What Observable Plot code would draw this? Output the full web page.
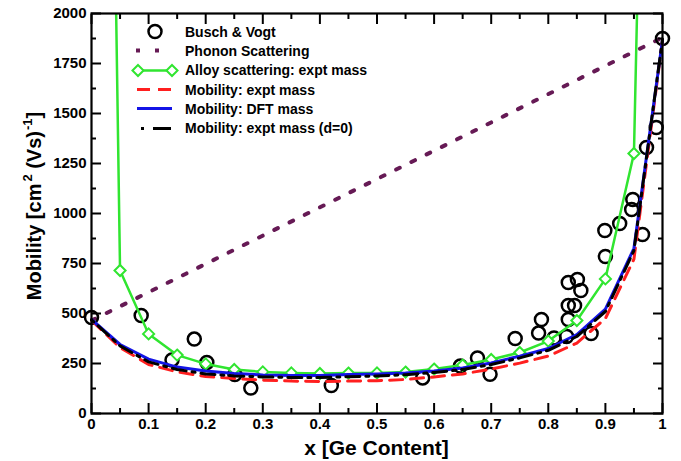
<!DOCTYPE html>
<html><head><meta charset="utf-8">
<script src="https://cdn.jsdelivr.net/npm/d3@7"></script>
<script src="https://cdn.jsdelivr.net/npm/@observablehq/plot@0.6"></script>
<style>
body{margin:0;background:#fff;}
#wrap{position:relative;width:681px;height:461px;font-family:"Liberation Sans",Arial,Helvetica,sans-serif;}
#legend{position:absolute;left:133px;top:22px;}
.row{display:flex;align-items:center;height:19.3px;font-weight:bold;font-size:14px;color:#000;white-space:nowrap;}
.row svg{width:44px;height:19px;margin-right:8px;flex:none;}
</style></head><body><div id="wrap"></div>
<script>
// ---- data ----
const xTicks = [0,0.1,0.2,0.3,0.4,0.5,0.6,0.7,0.8,0.9,1];
const xTickLabels = ["0","0.1","0.2","0.3","0.4","0.5","0.6","0.7","0.8","0.9","1"];
const xMinorTicks = [0.05,0.15,0.25,0.35,0.45,0.55,0.65,0.75,0.85,0.95];
const yTicks = [0,250,500,750,1000,1250,1500,1750,2000];
const yTickLabels = ["0","250","500","750","1000","1250","1500","1750","2000"];
const yMinorTicks = [125,375,625,875,1125,1375,1625,1875];

const seriesNames = ["Busch & Vogt","Phonon Scattering","Alloy scattering: expt mass","Mobility: expt mass","Mobility: DFT mass","Mobility: expt mass (d=0)"];

// Busch & Vogt experimental points
const buschX = [0,0.087,0.141,0.18,0.202,0.251,0.279,0.42,0.58,0.646,0.676,0.698,0.742,0.783,0.788,0.81,0.832,0.835,0.835,0.846,0.835,0.851,0.857,0.875,0.9,0.899,0.925,0.946,0.948,0.965,0.972,0.989,1.0];
const buschY = [480,490,268,372,255,195,127,140,178,237,278,196,375,402,470,378,385,470,540,540,655,670,615,400,785,915,950,1020,1070,895,1330,1430,1875];

// Phonon scattering (straight line)
const phononX = [0,1];
const phononY = [465,1880];

// Alloy scattering: expt mass (line points; the end points run off the top)
const alloyX = [0.04,0.05,0.1,0.15,0.2,0.25,0.3,0.35,0.4,0.45,0.5,0.55,0.6,0.65,0.7,0.75,0.8,0.85,0.9,0.95,0.96];
const alloyY = [2600,715,398,292,248,220,208,203,200,202,203,207,222,242,270,305,362,465,673,1300,2600];

// Mobility curves
const mobX = [0,0.05,0.1,0.15,0.2,0.25,0.3,0.35,0.4,0.45,0.5,0.55,0.6,0.65,0.7,0.75,0.8,0.85,0.9,0.95,1.0];
const mobExptY = [465,330,245,208,185,175,167,162,160,162,164,170,183,198,222,252,287,352,475,772,1865];
const mobDftY  = [470,345,272,232,212,200,193,190,190,195,198,203,212,228,253,287,325,395,522,826,1868];
const mobD0Y   = [468,338,258,220,198,188,183,180,180,184,188,194,205,220,245,278,316,385,510,815,1872];

// ---- tables ----
const busch = buschX.map((x,i)=>({x, y: buschY[i]}));
const phonon = phononX.map((x,i)=>({x, y: phononY[i]}));
const alloy = alloyX.map((x,i)=>({x, y: alloyY[i]}));
const alloyMarks = alloy.filter(d => d.y <= 2000);
const mobExpt = mobX.map((x,i)=>({x, y: mobExptY[i]}));
const mobDft = mobX.map((x,i)=>({x, y: mobDftY[i]}));
const mobD0 = mobX.map((x,i)=>({x, y: mobD0Y[i]}));

const GREEN = "#30e530", RED = "#ff1f1f", BLUE = "#1414e6", PURPLE = "#661a55";
const xFmt = d => xTickLabels[Math.round(d*10)];
const yFmt = d => yTickLabels[Math.round(d/250)];
const blank = () => "";

const plot = Plot.plot({
  width: 681, height: 461,
  marginLeft: 91, marginRight: 19, marginTop: 13, marginBottom: 48,
  style: {fontFamily: '"Liberation Sans", Arial, Helvetica, sans-serif', fontSize: "15px", fontWeight: "bold", color: "#000", background: "#fff"},
  x: {domain: [0,1]},
  y: {domain: [0,2000]},
  marks: [
    Plot.line(phonon, {x:"x", y:"y", stroke: PURPLE, strokeWidth: 4, strokeDasharray: "4,13", clip: true}),
    Plot.dot(busch, {x:"x", y:"y", r: 6.5, stroke: "#000", strokeWidth: 2.5, fill: "none"}),
    Plot.line(alloy, {x:"x", y:"y", stroke: GREEN, strokeWidth: 2.5, clip: true}),
    Plot.dot(alloyMarks, {x:"x", y:"y", symbol: "diamond2", r: 5, stroke: GREEN, strokeWidth: 2, fill: "#fff"}),
    Plot.line(mobExpt, {x:"x", y:"y", stroke: RED, strokeWidth: 3, strokeDasharray: "13,8"}),
    Plot.line(mobDft, {x:"x", y:"y", stroke: BLUE, strokeWidth: 3}),
    Plot.line(mobD0, {x:"x", y:"y", stroke: "#000", strokeWidth: 3, strokeDasharray: "3,6,14,6"}),
    Plot.axisX({ticks: xTicks, tickFormat: xFmt, tickSize: 0, tickPadding: 5, label: null}),
    Plot.axisY({ticks: yTicks, tickFormat: yFmt, tickSize: 0, tickPadding: 5, label: null}),
    Plot.axisX({ticks: xTicks, tickFormat: blank, tickSize: -10, strokeWidth: 2, label: null}),
    Plot.axisX({ticks: xMinorTicks, tickFormat: blank, tickSize: -5, strokeWidth: 2, label: null}),
    Plot.axisX({anchor: "top", ticks: xTicks, tickFormat: blank, tickSize: -10, strokeWidth: 2, label: null}),
    Plot.axisX({anchor: "top", ticks: xMinorTicks, tickFormat: blank, tickSize: -5, strokeWidth: 2, label: null}),
    Plot.axisY({ticks: yTicks, tickFormat: blank, tickSize: -10, strokeWidth: 2, label: null}),
    Plot.axisY({ticks: yMinorTicks, tickFormat: blank, tickSize: -5, strokeWidth: 2, label: null}),
    Plot.axisY({anchor: "right", ticks: yTicks, tickFormat: blank, tickSize: -10, strokeWidth: 2, label: null}),
    Plot.axisY({anchor: "right", ticks: yMinorTicks, tickFormat: blank, tickSize: -5, strokeWidth: 2, label: null}),
    Plot.frame({stroke: "#000", strokeWidth: 2.2})
  ]
});

const wrap = document.getElementById("wrap");
wrap.appendChild(plot);

// axis titles
const svg = d3.select(plot);
svg.append("text")
  .attr("x", 376.5).attr("y", 455)
  .attr("text-anchor", "middle")
  .attr("font-size", 21).attr("font-weight", "bold").attr("fill", "#000")
  .text("x [Ge Content]");
const yl = svg.append("text")
  .attr("transform", "translate(41,206) rotate(-90)")
  .attr("text-anchor", "middle")
  .attr("font-size", 20).attr("font-weight", "bold").attr("fill", "#000");
yl.append("tspan").text("Mobility [cm");
yl.append("tspan").attr("dy", -9).attr("dx", 2).attr("font-size", 13).text("2");
yl.append("tspan").attr("dy", 9).text(" (Vs)");
yl.append("tspan").attr("dy", -9).attr("dx", 1).attr("font-size", 13).text("-1");
yl.append("tspan").attr("dy", 9).text("]");

// legend
const legend = d3.select(wrap).append("div").attr("id", "legend");
const swatches = [
  g => g.append("circle").attr("cx", 22).attr("cy", 9.5).attr("r", 6.5).attr("fill","none").attr("stroke","#000").attr("stroke-width",2.5),
  g => g.append("line").attr("x1", 3).attr("x2", 27).attr("y1", 9.5).attr("y2", 9.5).attr("stroke", PURPLE).attr("stroke-width", 4).attr("stroke-dasharray","4,15"),
  g => { g.append("line").attr("x1", 5).attr("x2", 39).attr("y1", 9.5).attr("y2", 9.5).attr("stroke", GREEN).attr("stroke-width", 2.5);
         for (const cx of [5,39]) g.append("path").attr("d", d3.symbol(d3.symbolDiamond2, Math.PI*25)()).attr("transform",`translate(${cx},9.5)`).attr("fill","#fff").attr("stroke",GREEN).attr("stroke-width",2); },
  g => g.append("line").attr("x1", 4).attr("x2", 39).attr("y1", 9.5).attr("y2", 9.5).attr("stroke", RED).attr("stroke-width", 3).attr("stroke-dasharray","13,8"),
  g => g.append("line").attr("x1", 4).attr("x2", 39).attr("y1", 9.5).attr("y2", 9.5).attr("stroke", BLUE).attr("stroke-width", 3),
  g => g.append("line").attr("x1", 8).attr("x2", 38).attr("y1", 9.5).attr("y2", 9.5).attr("stroke", "#000").attr("stroke-width", 3).attr("stroke-dasharray","3,9,18,9")
];
seriesNames.forEach((name, i) => {
  const row = legend.append("div").attr("class", "row");
  const s = row.append("svg").attr("viewBox", "0 0 44 19").style("overflow","visible");
  swatches[i](s);
  row.append("span").text(name);
});
</script>
</body></html>
